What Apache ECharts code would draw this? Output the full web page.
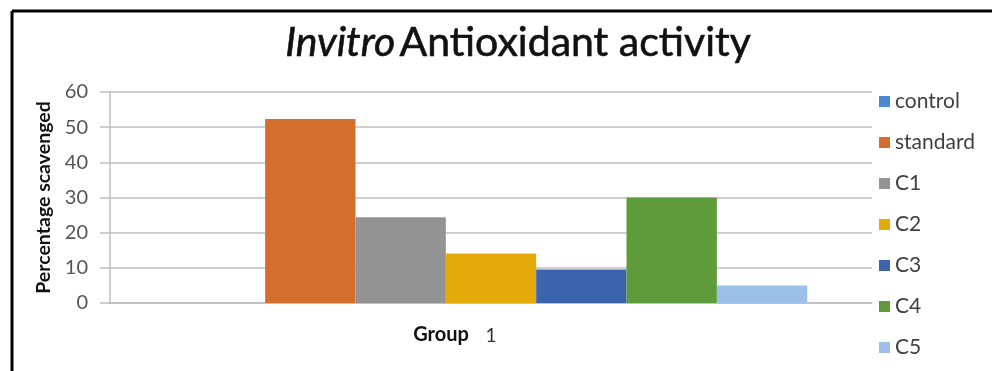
<!DOCTYPE html>
<html>
<head>
<meta charset="utf-8">
<script src="https://cdn.jsdelivr.net/npm/echarts@6/dist/echarts.min.js"></script>
<style>
  html, body { margin: 0; padding: 0; background: #fff; }
  #chart { width: 992px; height: 371px; }
</style>
</head>
<body>
<div id="chart"></div>
<script>
// data
const categories = ['1'];
const seriesNames = ['control', 'standard', 'C1', 'C2', 'C3', 'C4', 'C5'];
const seriesValues = [0, 52.3, 24.4, 14.1, 9.5, 30.0, 5.0];
const yTicks = [0, 10, 20, 30, 40, 50, 60];
const colors = ['#4a8ad0', '#d46e2c', '#939393', '#e3aa0a', '#3c64ad', '#5f9a3b', '#9cc0e8'];

const chart = echarts.init(document.getElementById('chart'));
const font = 'Lato, "Open Sans", sans-serif';

const option = {
    animation: false,
    color: colors,
    textStyle: { fontFamily: font },
    title: {
        text: '{i|Invitro} {b|Antioxidant activity}',
        left: 513,
        textAlign: 'center',
        top: 17,
        textStyle: {
            rich: {
                i: { fontFamily: font, fontStyle: 'italic', fontWeight: 'normal', fontSize: 41, color: '#111', textBorderColor: '#111', textBorderWidth: 0.6 },
                b: { fontFamily: font, fontWeight: 'normal', fontSize: 41, color: '#111', textBorderColor: '#111', textBorderWidth: 0.6 }
            }
        }
    },
    legend: {
        orient: 'vertical',
        left: 874,
        top: 86,
        height: 285,
        itemWidth: 11,
        itemHeight: 11,
        itemGap: 20,
        icon: 'rect',
        textStyle: { fontSize: 21, color: '#404040', fontFamily: font },
        data: seriesNames
    },
    grid: { left: 110, right: 120, top: 92, bottom: 68 },
    xAxis: {
        type: 'category',
        data: categories,
        name: 'Group',
        nameLocation: 'middle',
        nameGap: 22,
        nameMoveOverlap: false,
        nameTextStyle: { fontWeight: 'bold', fontSize: 20, color: '#111', padding: [0, 100, 0, 0], fontFamily: font },
        axisLine: { lineStyle: { color: '#bfbfbf', width: 1.5 } },
        axisTick: { show: false },
        axisLabel: { fontSize: 19, color: '#333', margin: 23, fontFamily: font }
    },
    yAxis: {
        type: 'value',
        min: yTicks[0],
        max: yTicks[yTicks.length - 1],
        interval: 10,
        name: 'Percentage scavenged',
        nameLocation: 'middle',
        nameGap: 55,
        nameTextStyle: { fontWeight: 'bold', fontSize: 19.5, color: '#111', fontFamily: font },
        axisLine: { show: true, lineStyle: { color: '#bfbfbf', width: 1.5 } },
        axisTick: { show: true, length: 10, lineStyle: { color: '#bfbfbf', width: 1.5 } },
        axisLabel: { fontSize: 20, color: '#555', margin: 22, fontFamily: font },
        splitLine: { lineStyle: { color: '#bfbfbf', width: 1.5 } }
    },
    series: seriesNames.map((name, i) => ({
        name: name,
        type: 'bar',
        data: [seriesValues[i]],
        barGap: '0%',
        barCategoryGap: '17%'
    })),
    graphic: [
        { type: 'line', shape: { x1: 12, y1: 11, x2: 992, y2: 11 }, style: { stroke: '#000', lineWidth: 3 } },
        { type: 'line', shape: { x1: 12, y1: 11, x2: 12, y2: 371 }, style: { stroke: '#000', lineWidth: 3 } }
    ]
};

chart.setOption(option);
</script>
</body>
</html>
